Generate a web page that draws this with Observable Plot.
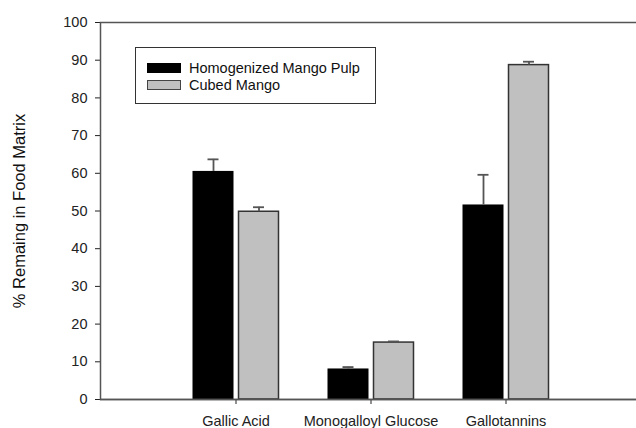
<!DOCTYPE html>
<html>
<head>
<meta charset="utf-8">
<script src="https://cdn.jsdelivr.net/npm/d3@7"></script>
<script src="https://cdn.jsdelivr.net/npm/@observablehq/plot@0.6"></script>
<style>
  html, body { margin: 0; padding: 0; background: #fff; }
  #wrap { position: relative; width: 636px; height: 428px; overflow: hidden; font-family: "Liberation Sans", Arial, sans-serif; }
  #wrap svg { max-width: none !important; width: 640px !important; height: 428px !important; display: block; }
  #legend { position: absolute; left: 135px; top: 47px; width: 241px; height: 57px; border: 1px solid #333; box-sizing: border-box; background: #fff; font-size: 14.5px; color: #111; }
  .item { position: absolute; left: 11px; height: 11px; display: flex; align-items: center; }
  .sw { width: 34px; height: 10px; box-sizing: border-box; margin-right: 8px; }
</style>
</head>
<body>
<div id="wrap"></div>
<script>
const categories = ["Gallic Acid", "Monogalloyl Glucose", "Gallotannins"];
const seriesNames = ["Homogenized Mango Pulp", "Cubed Mango"];
const pulpValues = [60.5, 8.1, 51.6];
const pulpErrors = [3.2, 0.5, 8.0];
const cubedValues = [49.8, 15.1, 88.7];
const cubedErrors = [1.2, 0.3, 0.9];
const yTicks = [0, 10, 20, 30, 40, 50, 60, 70, 80, 90, 100];
const yLabel = "% Remaing in Food Matrix";

const pulp = categories.map((c, i) => ({cat: c, v: pulpValues[i], hi: pulpValues[i] + pulpErrors[i]}));
const cubed = categories.map((c, i) => ({cat: c, v: cubedValues[i], hi: cubedValues[i] + cubedErrors[i]}));

const axisColor = "#555";

const chart = Plot.plot({
  width: 640,
  height: 428,
  marginLeft: 100,
  marginRight: 2,
  marginTop: 22,
  marginBottom: 29,
  style: {fontFamily: "'Liberation Sans', Arial, sans-serif", fontSize: "14.5px", color: "#222", background: "#fff"},
  x: {type: "band", domain: categories, range: [167.5, 572.5], padding: 0, label: null, tickSize: 5, tickPadding: 11},
  y: {domain: [0, 100], ticks: yTicks, tickSize: 5, tickPadding: 8, label: null},
  marks: [
    Plot.barY(pulp, {x: "cat", y: "v", fill: "#000", insetLeft: 24.5, insetRight: 69.5}),
    Plot.barY(cubed, {x: "cat", y: "v", fill: "#c0c0c0", stroke: "#333", strokeWidth: 1.5, insetLeft: 70.5, insetRight: 24.5}),
    Plot.ruleX(pulp, {x: "cat", y1: "v", y2: "hi", dx: -22.5, stroke: "#555", strokeWidth: 1.8}),
    Plot.ruleX(cubed, {x: "cat", y1: "v", y2: "hi", dx: 23, stroke: "#555", strokeWidth: 1.8}),
    Plot.tickY(pulp, {x: "cat", y: "hi", stroke: "#555", strokeWidth: 1.8, insetLeft: 39.5, insetRight: 84.5}),
    Plot.tickY(cubed, {x: "cat", y: "hi", stroke: "#555", strokeWidth: 1.8, insetLeft: 85, insetRight: 39}),
    Plot.frame({stroke: axisColor, strokeWidth: 1.5}),
    Plot.ruleY([0], {stroke: axisColor, strokeWidth: 1.5}),
    Plot.text([yLabel], {frameAnchor: "left", dx: -81, rotate: -90, textAnchor: "middle", text: d => d, fontSize: 16.5, fill: "#111"})
  ]
});

const wrap = document.getElementById("wrap");
wrap.appendChild(chart);

const legend = document.createElement("div");
legend.id = "legend";
const colors = [{fill: "#000", stroke: "#000"}, {fill: "#c0c0c0", stroke: "#444"}];
const tops = [14, 31];
seriesNames.forEach((name, i) => {
  const item = document.createElement("div");
  item.className = "item";
  item.style.top = tops[i] + "px";
  const sw = document.createElement("div");
  sw.className = "sw";
  sw.style.background = colors[i].fill;
  sw.style.border = "1px solid " + colors[i].stroke;
  const t = document.createElement("span");
  t.textContent = name;
  item.appendChild(sw);
  item.appendChild(t);
  legend.appendChild(item);
});
wrap.appendChild(legend);
</script>
</body>
</html>
